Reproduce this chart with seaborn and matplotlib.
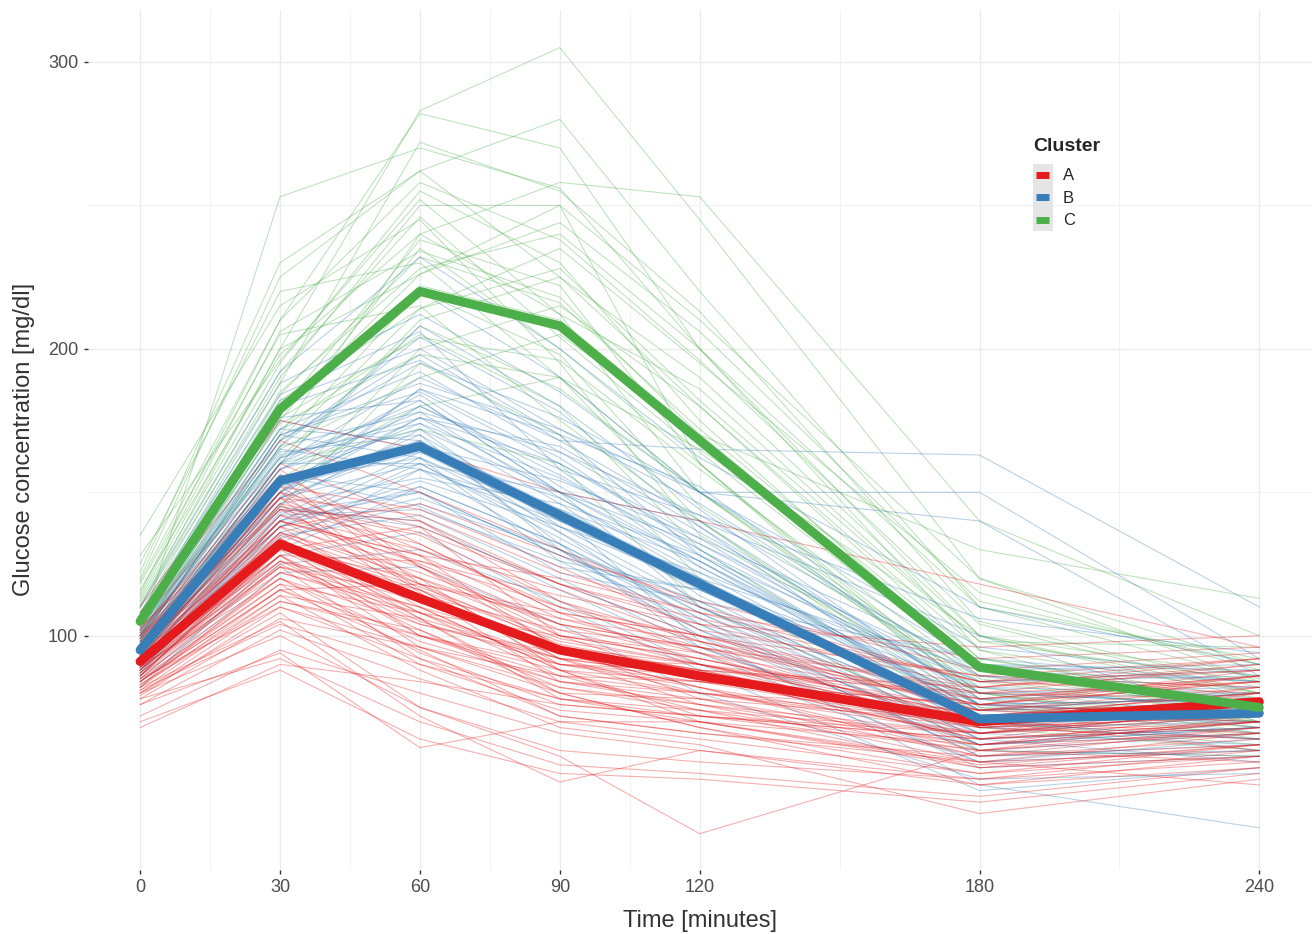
import numpy as np
import pandas as pd
import matplotlib
matplotlib.use("Agg")
import matplotlib.pyplot as plt
import seaborn as sns
from matplotlib.lines import Line2D
from matplotlib.patches import Rectangle
from matplotlib.legend_handler import HandlerBase

# Data

times = [0, 30, 60, 90, 120, 180, 240]
clusters = ["A", "B", "C"]
cluster_colors = ["#E41A1C", "#377EB8", "#4DAF4A"]

# cluster means (thick lines)
mean_a = [91, 132, 113, 95, 86, 70, 77]
mean_b = [95, 154, 166, 142, 118, 71, 73]
mean_c = [105, 179, 220, 208, 168, 89, 75]

# individual subject curves (thin lines), one row per subject
subjects_a = [
    [92, 135, 118, 97, 88, 70, 78],
    [88, 128, 105, 90, 82, 66, 74],
    [96, 142, 125, 104, 92, 72, 80],
    [84, 120, 98, 84, 78, 62, 70],
    [100, 150, 130, 110, 96, 78, 84],
    [79, 110, 92, 78, 70, 56, 66],
    [94, 138, 110, 88, 80, 68, 76],
    [90, 130, 120, 100, 92, 74, 82],
    [86, 125, 102, 82, 74, 60, 72],
    [98, 145, 135, 112, 98, 76, 86],
    [82, 116, 95, 72, 66, 58, 68],
    [105, 160, 140, 118, 104, 82, 90],
    [93, 132, 100, 86, 84, 72, 80],
    [87, 126, 112, 96, 90, 70, 74],
    [76, 102, 85, 70, 64, 52, 62],
    [95, 140, 128, 95, 86, 64, 70],
    [89, 122, 108, 100, 94, 76, 84],
    [101, 155, 118, 92, 80, 70, 78],
    [85, 118, 90, 74, 70, 62, 74],
    [91, 136, 122, 104, 96, 68, 72],
    [72, 95, 80, 66, 60, 48, 58],
    [97, 148, 115, 84, 76, 66, 80],
    [83, 112, 100, 90, 86, 72, 78],
    [108, 168, 150, 130, 110, 84, 92],
    [80, 108, 75, 60, 56, 50, 60],
    [94, 134, 106, 78, 72, 64, 70],
    [88, 130, 138, 118, 100, 78, 86],
    [99, 146, 112, 96, 88, 80, 90],
    [86, 120, 104, 94, 82, 58, 64],
    [92, 128, 96, 80, 78, 70, 82],
    [78, 92, 70, 55, 52, 44, 54],
    [95, 144, 132, 108, 90, 74, 76],
    [90, 124, 110, 88, 84, 76, 88],
    [84, 116, 118, 106, 98, 80, 84],
    [102, 158, 124, 100, 92, 72, 74],
    [80, 100, 75, 58, 31, 60, 66],
    [96, 138, 146, 128, 112, 88, 94],
    [89, 131, 108, 92, 86, 64, 68],
    [81, 114, 88, 68, 62, 38, 50],
    [93, 140, 126, 114, 104, 96, 100],
    [87, 124, 92, 72, 66, 56, 48],
    [100, 152, 144, 124, 102, 86, 82],
    [85, 110, 96, 86, 80, 74, 86],
    [110, 175, 165, 150, 140, 118, 96],
    [70, 88, 64, 52, 50, 42, 52],
    [91, 133, 117, 99, 90, 72, 78],
    [82, 105, 72, 49, 60, 50, 56],
    [76, 94, 61, 70, 70, 55, 62],
    [68, 90, 84, 76, 72, 66, 72],
    [103, 148, 128, 120, 108, 92, 96],
    [90, 140, 128, 106, 94, 62, 66],
    [86, 132, 116, 92, 76, 56, 60],
    [94, 146, 136, 118, 106, 84, 88],
    [82, 122, 110, 96, 88, 68, 72],
    [98, 152, 124, 102, 90, 66, 70],
    [88, 136, 120, 88, 72, 60, 68],
    [92, 126, 104, 92, 90, 78, 86],
    [84, 118, 108, 86, 74, 54, 62],
    [96, 144, 140, 112, 94, 70, 74],
    [80, 112, 102, 80, 68, 52, 58],
    [102, 156, 132, 108, 100, 80, 78],
    [87, 128, 100, 84, 80, 66, 74],
    [91, 142, 130, 116, 98, 74, 80],
    [78, 106, 96, 82, 76, 62, 70],
    [99, 150, 116, 90, 84, 76, 84],
    [85, 124, 114, 102, 96, 82, 88],
    [93, 138, 124, 96, 78, 58, 62],
    [89, 120, 94, 76, 72, 64, 76],
    [97, 148, 142, 122, 108, 84, 80],
    [83, 114, 106, 92, 86, 70, 66],
    [95, 136, 112, 94, 82, 60, 56],
    [90, 128, 126, 110, 100, 86, 92],
    [86, 130, 106, 80, 68, 48, 54],
    [100, 144, 120, 104, 96, 76, 72],
    [81, 104, 90, 78, 74, 66, 76],
    [94, 150, 138, 100, 84, 68, 64],
    [88, 126, 116, 98, 90, 70, 60],
    [92, 134, 108, 90, 88, 82, 92],
    [84, 116, 100, 88, 70, 54, 58],
    [96, 140, 118, 108, 100, 74, 70],
]

subjects_b = [
    [95, 155, 168, 144, 120, 72, 74],
    [92, 148, 160, 136, 110, 68, 70],
    [98, 162, 176, 150, 126, 76, 78],
    [90, 140, 150, 128, 104, 64, 68],
    [100, 170, 185, 160, 132, 80, 76],
    [88, 135, 142, 120, 96, 60, 66],
    [96, 158, 172, 138, 112, 70, 72],
    [94, 150, 180, 156, 128, 74, 70],
    [102, 175, 165, 140, 118, 82, 80],
    [86, 130, 152, 132, 108, 66, 72],
    [97, 160, 190, 168, 140, 78, 74],
    [91, 145, 138, 118, 100, 62, 68],
    [104, 182, 200, 172, 146, 86, 82],
    [89, 142, 164, 148, 122, 70, 64],
    [99, 165, 158, 130, 106, 58, 62],
    [93, 152, 176, 160, 134, 76, 78],
    [85, 125, 130, 112, 90, 56, 60],
    [106, 188, 212, 185, 150, 90, 84],
    [95, 156, 145, 124, 116, 74, 80],
    [92, 150, 170, 142, 98, 54, 58],
    [100, 168, 195, 176, 150, 150, 92],
    [87, 138, 160, 150, 140, 100, 70],
    [96, 160, 182, 150, 110, 64, 56],
    [90, 146, 155, 146, 128, 84, 88],
    [103, 178, 220, 190, 150, 96, 86],
    [94, 154, 162, 126, 102, 66, 74],
    [110, 192, 232, 200, 162, 110, 90],
    [88, 136, 148, 130, 100, 48, 33],
    [97, 163, 174, 155, 130, 72, 60],
    [84, 122, 124, 104, 80, 50, 52],
    [101, 172, 168, 132, 96, 62, 68],
    [93, 148, 186, 170, 152, 80, 76],
    [99, 166, 204, 178, 138, 70, 64],
    [91, 143, 150, 122, 112, 92, 84],
    [95, 158, 178, 164, 142, 106, 94],
    [104, 180, 196, 168, 165, 163, 110],
    [98, 170, 188, 172, 150, 140, 86],
    [82, 128, 136, 110, 88, 46, 54],
    [108, 184, 206, 158, 124, 76, 66],
    [89, 140, 158, 140, 120, 88, 90],
    [94, 152, 164, 140, 116, 70, 72],
    [91, 146, 172, 150, 124, 74, 76],
    [97, 160, 160, 134, 108, 62, 66],
    [89, 138, 154, 138, 118, 78, 80],
    [100, 166, 178, 148, 120, 68, 64],
    [93, 150, 186, 162, 130, 80, 82],
    [96, 156, 150, 128, 110, 72, 78],
    [87, 134, 146, 130, 112, 64, 68],
    [102, 172, 192, 164, 136, 82, 74],
    [92, 148, 168, 136, 104, 58, 60],
    [98, 162, 180, 158, 142, 88, 84],
    [90, 142, 144, 126, 116, 76, 72],
    [95, 154, 174, 146, 114, 66, 62],
    [99, 168, 198, 170, 128, 72, 70],
    [86, 132, 158, 144, 126, 70, 76],
    [101, 170, 162, 138, 122, 84, 86],
    [94, 150, 176, 166, 138, 78, 68],
    [91, 144, 140, 116, 94, 56, 64],
    [97, 158, 184, 152, 126, 74, 80],
    [93, 148, 166, 154, 134, 90, 88],
    [100, 164, 170, 130, 102, 60, 58],
    [88, 140, 162, 142, 118, 68, 74],
    [96, 160, 208, 180, 144, 76, 72],
    [105, 176, 182, 150, 132, 86, 78],
    [90, 138, 152, 132, 106, 62, 70],
]

subjects_c = [
    [105, 180, 222, 210, 170, 90, 76],
    [110, 200, 283, 305, 245, 120, 90],
    [102, 253, 270, 256, 200, 100, 80],
    [120, 225, 262, 280, 220, 110, 85],
    [98, 170, 240, 258, 253, 140, 100],
    [115, 210, 282, 270, 200, 95, 70],
    [95, 160, 210, 225, 190, 100, 78],
    [108, 190, 250, 250, 210, 120, 84],
    [100, 175, 235, 200, 160, 80, 70],
    [125, 220, 230, 190, 150, 85, 72],
    [92, 150, 200, 215, 180, 95, 80],
    [112, 195, 255, 230, 175, 88, 74],
    [103, 165, 190, 205, 170, 130, 113],
    [118, 205, 215, 175, 140, 75, 68],
    [96, 155, 180, 190, 165, 100, 86],
    [106, 185, 228, 240, 200, 110, 92],
    [135, 215, 245, 195, 135, 80, 66],
    [100, 172, 205, 180, 130, 70, 62],
    [110, 188, 272, 255, 213, 105, 82],
    [94, 145, 195, 170, 120, 60, 58],
    [104, 178, 238, 222, 160, 78, 64],
    [122, 230, 262, 225, 180, 92, 76],
    [99, 168, 220, 198, 145, 84, 72],
    [107, 182, 214, 235, 195, 115, 88],
    [113, 200, 226, 250, 160, 75, 70],
    [97, 160, 172, 160, 110, 68, 60],
    [128, 196, 252, 212, 186, 98, 96],
    [108, 176, 204, 196, 158, 86, 74],
    [101, 184, 232, 216, 172, 92, 78],
    [116, 198, 240, 212, 150, 80, 68],
    [97, 166, 214, 228, 182, 98, 84],
    [111, 192, 246, 204, 164, 88, 72],
    [104, 174, 198, 190, 140, 72, 66],
    [119, 210, 258, 238, 196, 104, 80],
    [100, 178, 226, 244, 206, 112, 90],
    [106, 162, 208, 186, 150, 82, 70],
    [114, 206, 234, 218, 170, 90, 76],
]

minor_x = [15, 45, 75, 105, 150, 210]
major_y = [100, 200, 300]
minor_y = [150, 250]


# Long-format frames

rows = []
sid = 0
for cl, subs in zip(clusters, [subjects_a, subjects_b, subjects_c]):
    for vals in subs:
        for t, v in zip(times, vals):
            rows.append({"subject": sid, "cluster": cl, "time": t, "glucose": v})
        sid += 1
indiv = pd.DataFrame(rows)

means = pd.DataFrame({
    "time": times * 3,
    "glucose": mean_a + mean_b + mean_c,
    "cluster": ["A"] * 7 + ["B"] * 7 + ["C"] * 7,
})

palette = dict(zip(clusters, cluster_colors))


# Legend key with grey background like ggplot

class KeyHandler(HandlerBase):
    def create_artists(self, legend, orig_handle, xdescent, ydescent,
                       width, height, fontsize, trans):
        bg = Rectangle((-xdescent, -ydescent), width, height,
                       facecolor="#E5E5E5", edgecolor="none", transform=trans)
        y = -ydescent + height / 2
        ln = Line2D([-xdescent + 2.5, -xdescent + width - 2.5], [y, y],
                    color=orig_handle.get_color(), lw=5, solid_capstyle="butt",
                    transform=trans)
        return [bg, ln]


# Plot

sns.set_theme(style="whitegrid", rc={
    "grid.color": "#EBEBEB",
    "grid.linewidth": 1.0,
    "axes.edgecolor": "white",
})
plt.rcParams["font.family"] = ["Liberation Sans", "DejaVu Sans"]

fig = plt.figure(figsize=(13.12, 9.34), dpi=100)
ax = fig.add_axes([0.067, 0.069, 0.933, 0.92])

sns.lineplot(data=indiv, x="time", y="glucose", hue="cluster",
             hue_order=["C", "B", "A"], palette=palette,
             units="subject", estimator=None, lw=0.8, alpha=0.35,
             legend=False, ax=ax)
sns.lineplot(data=means, x="time", y="glucose", hue="cluster",
             hue_order=clusters, palette=palette, lw=6.5,
             legend=False, ax=ax)

ax.set_xlim(-11.2, 251.3)
ax.set_ylim(18.5, 318)
ax.set_xticks(times)
ax.set_xticks(minor_x, minor=True)
ax.set_yticks(major_y)
ax.set_yticks(minor_y, minor=True)
ax.grid(which="major", color="#EBEBEB", lw=1.0)
ax.grid(which="minor", color="#F2F2F2", lw=0.8)
ax.tick_params(which="major", bottom=True, left=True, length=3, width=1,
               color="#333333", labelsize=13, labelcolor="#4D4D4D", pad=4)
ax.tick_params(which="minor", length=0)
for s in ax.spines.values():
    s.set_visible(False)

ax.set_xlabel("Time [minutes]", fontsize=17, color="#333333", labelpad=10)
ax.set_ylabel("Glucose concentration [mg/dl]", fontsize=17, color="#333333", labelpad=9)

handles = [Line2D([], [], color=c) for c in cluster_colors]
leg = ax.legend(handles, clusters, title="Cluster", loc="upper left",
                bbox_to_anchor=(0.772, 0.851), frameon=False,
                handler_map={Line2D: KeyHandler()},
                fontsize=12, title_fontsize=14,
                handlelength=1.2, handleheight=1.7, labelspacing=0.0,
                handletextpad=0.6, borderpad=0, borderaxespad=0,
                alignment="left")
leg.get_title().set_fontweight("bold")
leg._legend_box.sep = 6  # small gap between title and keys

fig.savefig("out.png", dpi=100)
plt.close(fig)
